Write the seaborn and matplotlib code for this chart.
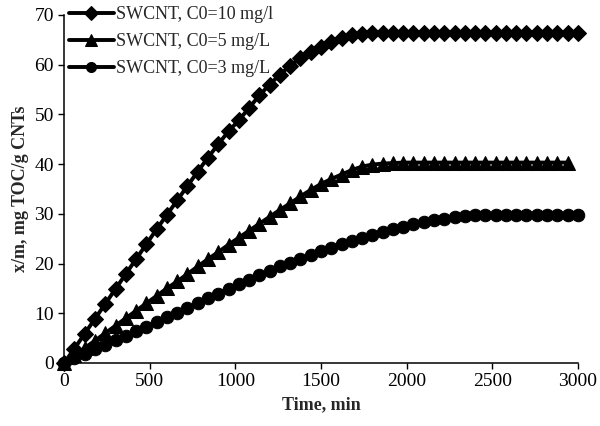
import matplotlib
matplotlib.use("Agg")
import matplotlib.pyplot as plt
import seaborn as sns
import pandas as pd
import numpy as np

# ---------------- data ----------------
time_10 = list(range(0, 3001, 60))
time_5 = list(range(0, 2941, 60))
time_3 = list(range(0, 3001, 60))

c0_10 = [0, 2.9, 5.9, 8.9, 11.9, 14.9, 17.9, 20.9, 23.9, 26.9,
         29.8, 32.7, 35.6, 38.5, 41.3, 44.0, 46.6, 48.8, 51.3, 53.8,
         56.0, 58.0, 59.8, 61.3, 62.6, 63.6, 64.5, 65.3, 65.9, 66.2,
         66.3, 66.3, 66.3, 66.3, 66.3, 66.3, 66.3, 66.3, 66.3, 66.3,
         66.3, 66.3, 66.3, 66.3, 66.3, 66.3, 66.3, 66.3, 66.3, 66.3,
         66.3]
c0_5 = [0, 1.5, 3.0, 4.5, 6.0, 7.5, 9.0, 10.5, 12.0, 13.5,
        15.0, 16.4, 17.9, 19.4, 20.9, 22.3, 23.8, 25.2, 26.6, 28.0,
        29.4, 30.8, 32.1, 33.5, 34.8, 36.0, 37.0, 37.9, 38.8, 39.5,
        39.9, 40.1, 40.2, 40.3, 40.3, 40.3, 40.3, 40.3, 40.3, 40.3,
        40.3, 40.3, 40.3, 40.3, 40.3, 40.3, 40.3, 40.3, 40.3, 40.3]
c0_3 = [0, 0.9, 1.9, 2.8, 3.7, 4.6, 5.5, 6.4, 7.3, 8.2,
        9.2, 10.1, 11.1, 12.0, 13.0, 13.9, 14.9, 15.8, 16.7, 17.6,
        18.5, 19.4, 20.2, 21.0, 21.8, 22.5, 23.2, 23.9, 24.6, 25.2,
        25.8, 26.4, 26.9, 27.4, 27.9, 28.3, 28.7, 29.0, 29.3, 29.5,
        29.7, 29.8, 29.8, 29.8, 29.8, 29.8, 29.8, 29.8, 29.8, 29.8,
        29.8]

labels = ["SWCNT, C0=10 mg/l", "SWCNT, C0=5 mg/L", "SWCNT, C0=3 mg/L"]
x_ticks = [0, 500, 1000, 1500, 2000, 2500, 3000]
y_ticks = [0, 10, 20, 30, 40, 50, 60, 70]

df = pd.concat([
    pd.DataFrame({"Time": time_10, "Value": c0_10, "Series": labels[0]}),
    pd.DataFrame({"Time": time_5, "Value": c0_5, "Series": labels[1]}),
    pd.DataFrame({"Time": time_3, "Value": c0_3, "Series": labels[2]}),
], ignore_index=True)

# ---------------- style ----------------
sns.set_style("ticks")
plt.rcParams["font.family"] = ["Liberation Serif", "DejaVu Serif"]

fig = plt.figure(figsize=(6.0, 4.26), dpi=100)
ax = fig.add_axes([0.107, 0.148, 0.856, 0.817])

markers = {labels[0]: "D", labels[1]: "^", labels[2]: "o"}
sizes_ms = {labels[0]: 8.3, labels[1]: 10.0, labels[2]: 9.0}

for lab in labels:
    sub = df[df["Series"] == lab]
    sns.lineplot(data=sub, x="Time", y="Value", ax=ax, color="black",
                 marker=markers[lab], markersize=sizes_ms[lab],
                 markeredgecolor="black", markerfacecolor="black",
                 linewidth=2.8, label=lab, clip_on=False)

ax.set_xlim(0, 3000)
ax.set_ylim(0, 70)
ax.set_xticks(x_ticks)
ax.set_yticks(y_ticks)
ax.tick_params(axis="both", labelsize=14, length=4, width=1,
               direction="out", colors="black")
for s in ["top", "right"]:
    ax.spines[s].set_visible(False)
for s in ["left", "bottom"]:
    ax.spines[s].set_linewidth(1.1)
    ax.spines[s].set_color("black")

ax.set_xlabel("Time, min", fontsize=13, fontweight="bold")
ax.set_ylabel("x/m, mg TOC/g CNTs", fontsize=13, fontweight="bold")

leg = ax.legend(loc="upper left", bbox_to_anchor=(-0.005, 1.045),
                frameon=False, fontsize=13, handlelength=2.5,
                handletextpad=0.1, labelspacing=0.55, borderaxespad=0.0,
                markerscale=0.8)

fig.savefig("out.png", dpi=100)
